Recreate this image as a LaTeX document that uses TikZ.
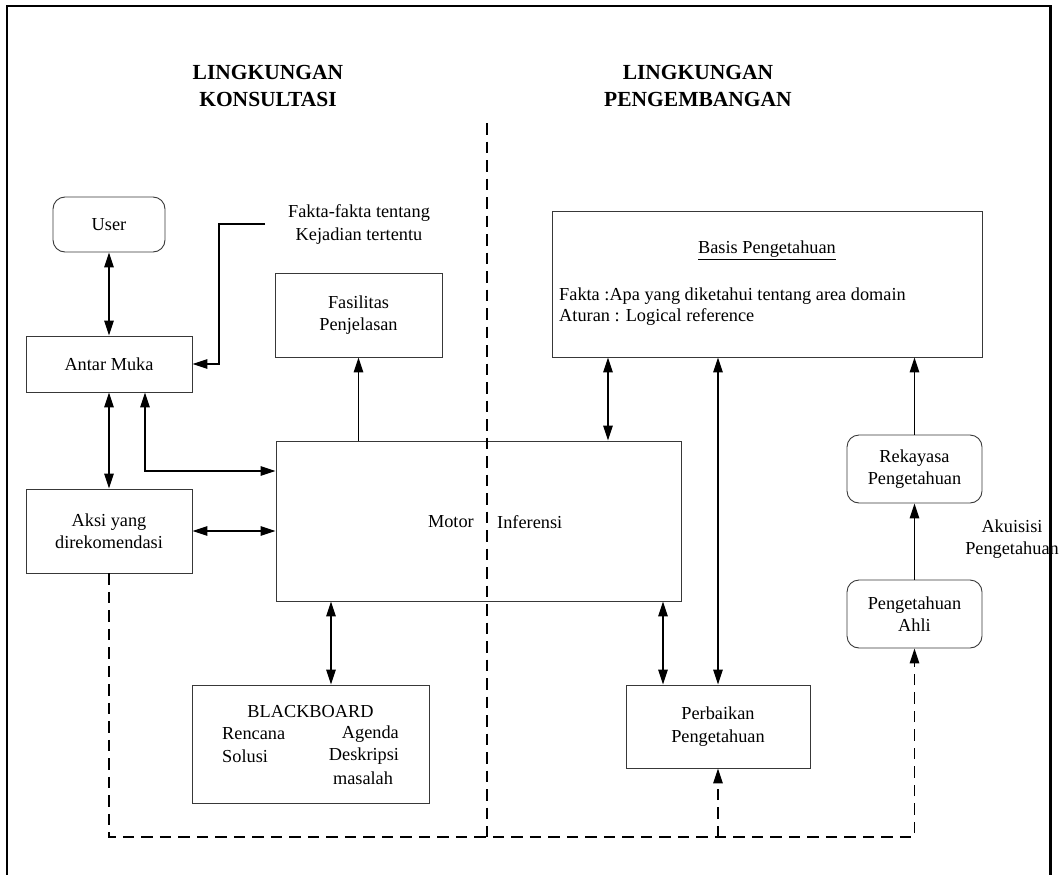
\documentclass[tikz,border=0pt]{standalone}
\usepackage{fontspec}
\setmainfont{Liberation Serif}
\usetikzlibrary{arrows.meta}
\begin{document}
\begin{tikzpicture}[x=1pt,y=-1pt,
  every node/.style={font=\fontsize{18.3}{22.5}\selectfont},
  box/.style={draw=black!78, line width=0.9pt, align=center, inner sep=0pt},
  rbox/.style={box, rounded corners=12pt},
  txt/.style={align=center, inner sep=0pt},
  heading/.style={align=center, inner sep=0pt, font=\fontsize{21.5}{27}\selectfont\bfseries},
  link/.style={line width=1.3pt, -{Triangle[length=15pt,width=9.5pt]}},
  dlink/.style={line width=1.3pt, {Triangle[length=15pt,width=9.5pt]}-{Triangle[length=15pt,width=9.5pt]}},
  dashline/.style={line width=1.3pt, dash pattern=on 11.5pt off 7pt},
]
\path[use as bounding box] (0,0) rectangle (1062,875);

% section headings
\node[heading] (hkons) at (268,86) {LINGKUNGAN\\KONSULTASI};
\node[heading] (hpeng) at (698,86) {LINGKUNGAN\\PENGEMBANGAN};

% consultation side
\node[rbox, minimum width=112pt, minimum height=55pt] (user) at (109,224.5) {User};
\node[box, minimum width=166pt, minimum height=56pt] (antar) at (109,364) {Antar Muka};
\node[box, minimum width=166pt, minimum height=84pt] (aksi) at (109,531) {Aksi yang\\direkomendasi};
\node[box, minimum width=167pt, minimum height=84pt] (fasil) at (358.5,315) {Fasilitas\\Penjelasan};
\node[txt] (fakta) at (359,224.5) {Fakta-fakta tentang\\Kejadian tertentu};

% inference engine
\node[box, minimum width=405pt, minimum height=160pt] (motor) at (478.5,521) {};
\node[txt, anchor=east] (motorA) at (474,522) {Motor};
\node[txt, anchor=west] (motorB) at (497,522) {Inferensi};

% blackboard
\node[box, minimum width=237pt, minimum height=118pt] (black) at (310.5,744) {};
\node[txt] (bbtitle) at (310.5,712) {BLACKBOARD};
\node[txt, anchor=west] (bbren) at (222,734) {Rencana};
\node[txt, anchor=west] (bbsol) at (222,756) {Solusi};
\node[txt, anchor=east] (bbage) at (399,734) {Agenda};
\node[txt] (bbdes) at (364,756) {Deskripsi};
\node[txt] (bbmas) at (363,778) {masalah};

% development side
\node[box, minimum width=430pt, minimum height=146pt] (basis) at (767,284) {};
\node[txt] (basisT) at (767,250) {\underline{Basis Pengetahuan}};
\node[txt, anchor=west, align=left, font=\fontsize{18.3}{21}\selectfont] (basisI) at (559,306.5)
  {Fakta :Apa yang diketahui tentang area domain\\Aturan : Logical reference};
\node[rbox, minimum width=135pt, minimum height=68pt] (rekay) at (914.5,469) {Rekayasa\\Pengetahuan};
\node[rbox, minimum width=135pt, minimum height=68pt] (ahli) at (914.5,614) {Pengetahuan\\Ahli};
\node[box, minimum width=184pt, minimum height=83pt] (perb) at (718,726.5) {Perbaikan\\Pengetahuan};
\node[txt] (akuis) at (1012,539) {Akuisisi\\Pengetahuan};

% helper coordinates
\coordinate (faktaTail) at (265,224);
\coordinate (bendA) at (219,0);
\coordinate (kx) at (145,471);
\coordinate (bbx) at (331,0);
\coordinate (bx) at (608,0);
\coordinate (px) at (663,0);
\coordinate (floor) at (0,837);

% solid connectors
\draw[dlink] (user.south) -- (antar.north);
\draw[link] (faktaTail) -- (faktaTail -| bendA) -- (antar.east -| bendA) -- (antar.east);
\draw[dlink] (antar.south) -- (aksi.north);
\draw[dlink] (antar.south -| kx) -- (kx) -- (motor.west |- kx);
\draw[dlink] (aksi.east) -- (aksi.east -| motor.west);
\draw[link] (motor.north -| fasil.south) -- (fasil.south);
\draw[dlink] (motor.south -| bbx) -- (black.north -| bbx);
\draw[dlink] (basis.south -| bx) -- (motor.north -| bx);
\draw[dlink] (motor.south -| px) -- (perb.north -| px);
\draw[dlink] (basis.south -| perb.north) -- (perb.north);
\draw[link] (rekay.north) -- (basis.south -| rekay.north);
\draw[link] (ahli.north) -- (rekay.south);

% dashed feedback paths and divider
\draw[dashline, -{Triangle[length=15pt,width=9.5pt]}] (aksi.south) -- (aksi.south |- floor) -- (ahli.south |- floor) -- (ahli.south);
\draw[dashline, -{Triangle[length=15pt,width=9.5pt]}] (perb.south |- floor) -- (perb.south);
\draw[dashline] (487,123) -- (487,837);

% outer frame, open at the bottom
\fill[black] (5.6,4.6) rectangle (1051.9,7.4);
\fill[black] (5.6,4.6) rectangle (8.4,875);
\fill[black] (1049.1,4.6) rectangle (1051.9,875);
\end{tikzpicture}
\end{document}
